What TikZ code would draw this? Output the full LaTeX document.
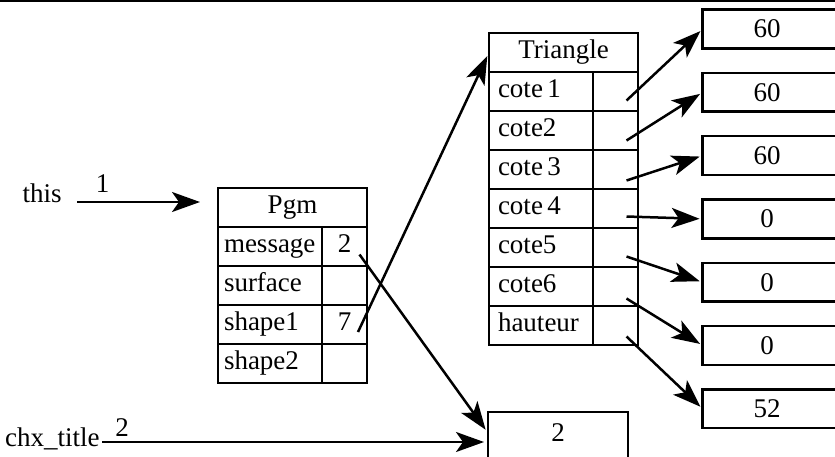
\documentclass[tikz,border=0pt]{standalone}
\usepackage{fontspec}
\setmainfont{Liberation Serif}
\usetikzlibrary{arrows.meta,positioning}

\begin{document}
\begin{tikzpicture}[
  x=0.5pt, y=-0.5pt,
  font=\fontsize{13.5}{15}\selectfont,
  cell/.style={draw,line width=1.25pt,outer sep=0pt,inner ysep=2pt,
               minimum height=19.5pt,text height=9pt,text depth=3pt},
  head/.style={cell,minimum width=74.5pt},
  field/.style={cell,inner xsep=3pt,text width=46pt,align=left},
  slot/.style={cell,minimum width=22.5pt},
  value/.style={inner sep=0pt,minimum width=64pt,minimum height=19pt},
  var/.style={inner sep=0pt},
  lbl/.style={inner sep=1pt},
  frame/.style={line width=1.25pt},
  arrow/.style={-{Stealth[length=14pt,width=10pt,inset=3.5pt]},line width=1.25pt}
]
  \useasboundingbox (0,0) rectangle (835,456);
  \draw[frame] (0,1) -- (835,1);

  % object Pgm
  \node[head] (pgm) at (292.5,207.5) {Pgm};
  \node[field,anchor=north west] (msg) at (pgm.south west) {message};
  \node[slot,right=0pt of msg] (msgv) {2};
  \node[field,below=0pt of msg] (surf) {surface};
  \node[slot,right=0pt of surf] (surfv) {};
  \node[field,below=0pt of surf] (shpa) {shape1};
  \node[slot,right=0pt of shpa] (shpav) {7};
  \node[field,below=0pt of shpa] (shpb) {shape2};
  \node[slot,right=0pt of shpb] (shpbv) {};

  % object Triangle
  \node[head] (tri) at (563.5,52.5) {Triangle};
  \foreach \txt [count=\i] in {cote\,1,cote2,cote\,3,cote\,4,cote5,cote6,hauteur} {
    \node[field,anchor=north west,inner xsep=4.5pt,text width=43pt] (c\i)
      at ([yshift=-(\i-1)*19.5pt]tri.south west) {\txt};
    \node[slot,right=0pt of c\i] (c\i v) {};
  }

  % plain values, open to the right
  \foreach \num [count=\i] in {60,60,60,0,0,0,52} {
    \node[value] (v\i) at (767,{29+(\i-1)*63.3}) {\num};
    \draw[frame] ([xshift=40pt]v\i.north east) -- (v\i.north west)
      -- (v\i.south west) -- ([xshift=40pt]v\i.south east);
  }
  \foreach \i/\dy in {1/9,2/10,3/11,4/8,5/9,6/12,7/11}
    \draw[arrow,shorten >=1.5pt] ([shift={(11,\dy)}]c\i v.center) -- (v\i.west);

  % the string
  \node[cell,minimum width=70pt,minimum height=23pt,anchor=north west] (chxv) at (488,412) {2};

  % variables
  \node[var,anchor=base east] (this) at (62,202) {this};
  \node[var,anchor=mid east] (chx) at (100,442) {chx\_title};

  \draw[arrow,shorten <=7.5pt,shorten >=9pt] (this.base east) -- (this.base east -| pgm.west)
    node[lbl,pos=0.26,above=3pt] {1};
  \draw[arrow,shorten <=1pt,shorten >=2pt] (chx.mid east) -- (chx.mid east -| chxv.west)
    node[lbl,pos=0.057,above=1pt] {2};
  \draw[arrow,shorten >=2pt] ([shift={(15,8)}]msgv.center) -- ([yshift=1pt]chxv.west);
  \draw[arrow,shorten >=2pt] ([shift={(13.5,7.5)}]shpav.center) -- (tri.west);
\end{tikzpicture}
\end{document}
